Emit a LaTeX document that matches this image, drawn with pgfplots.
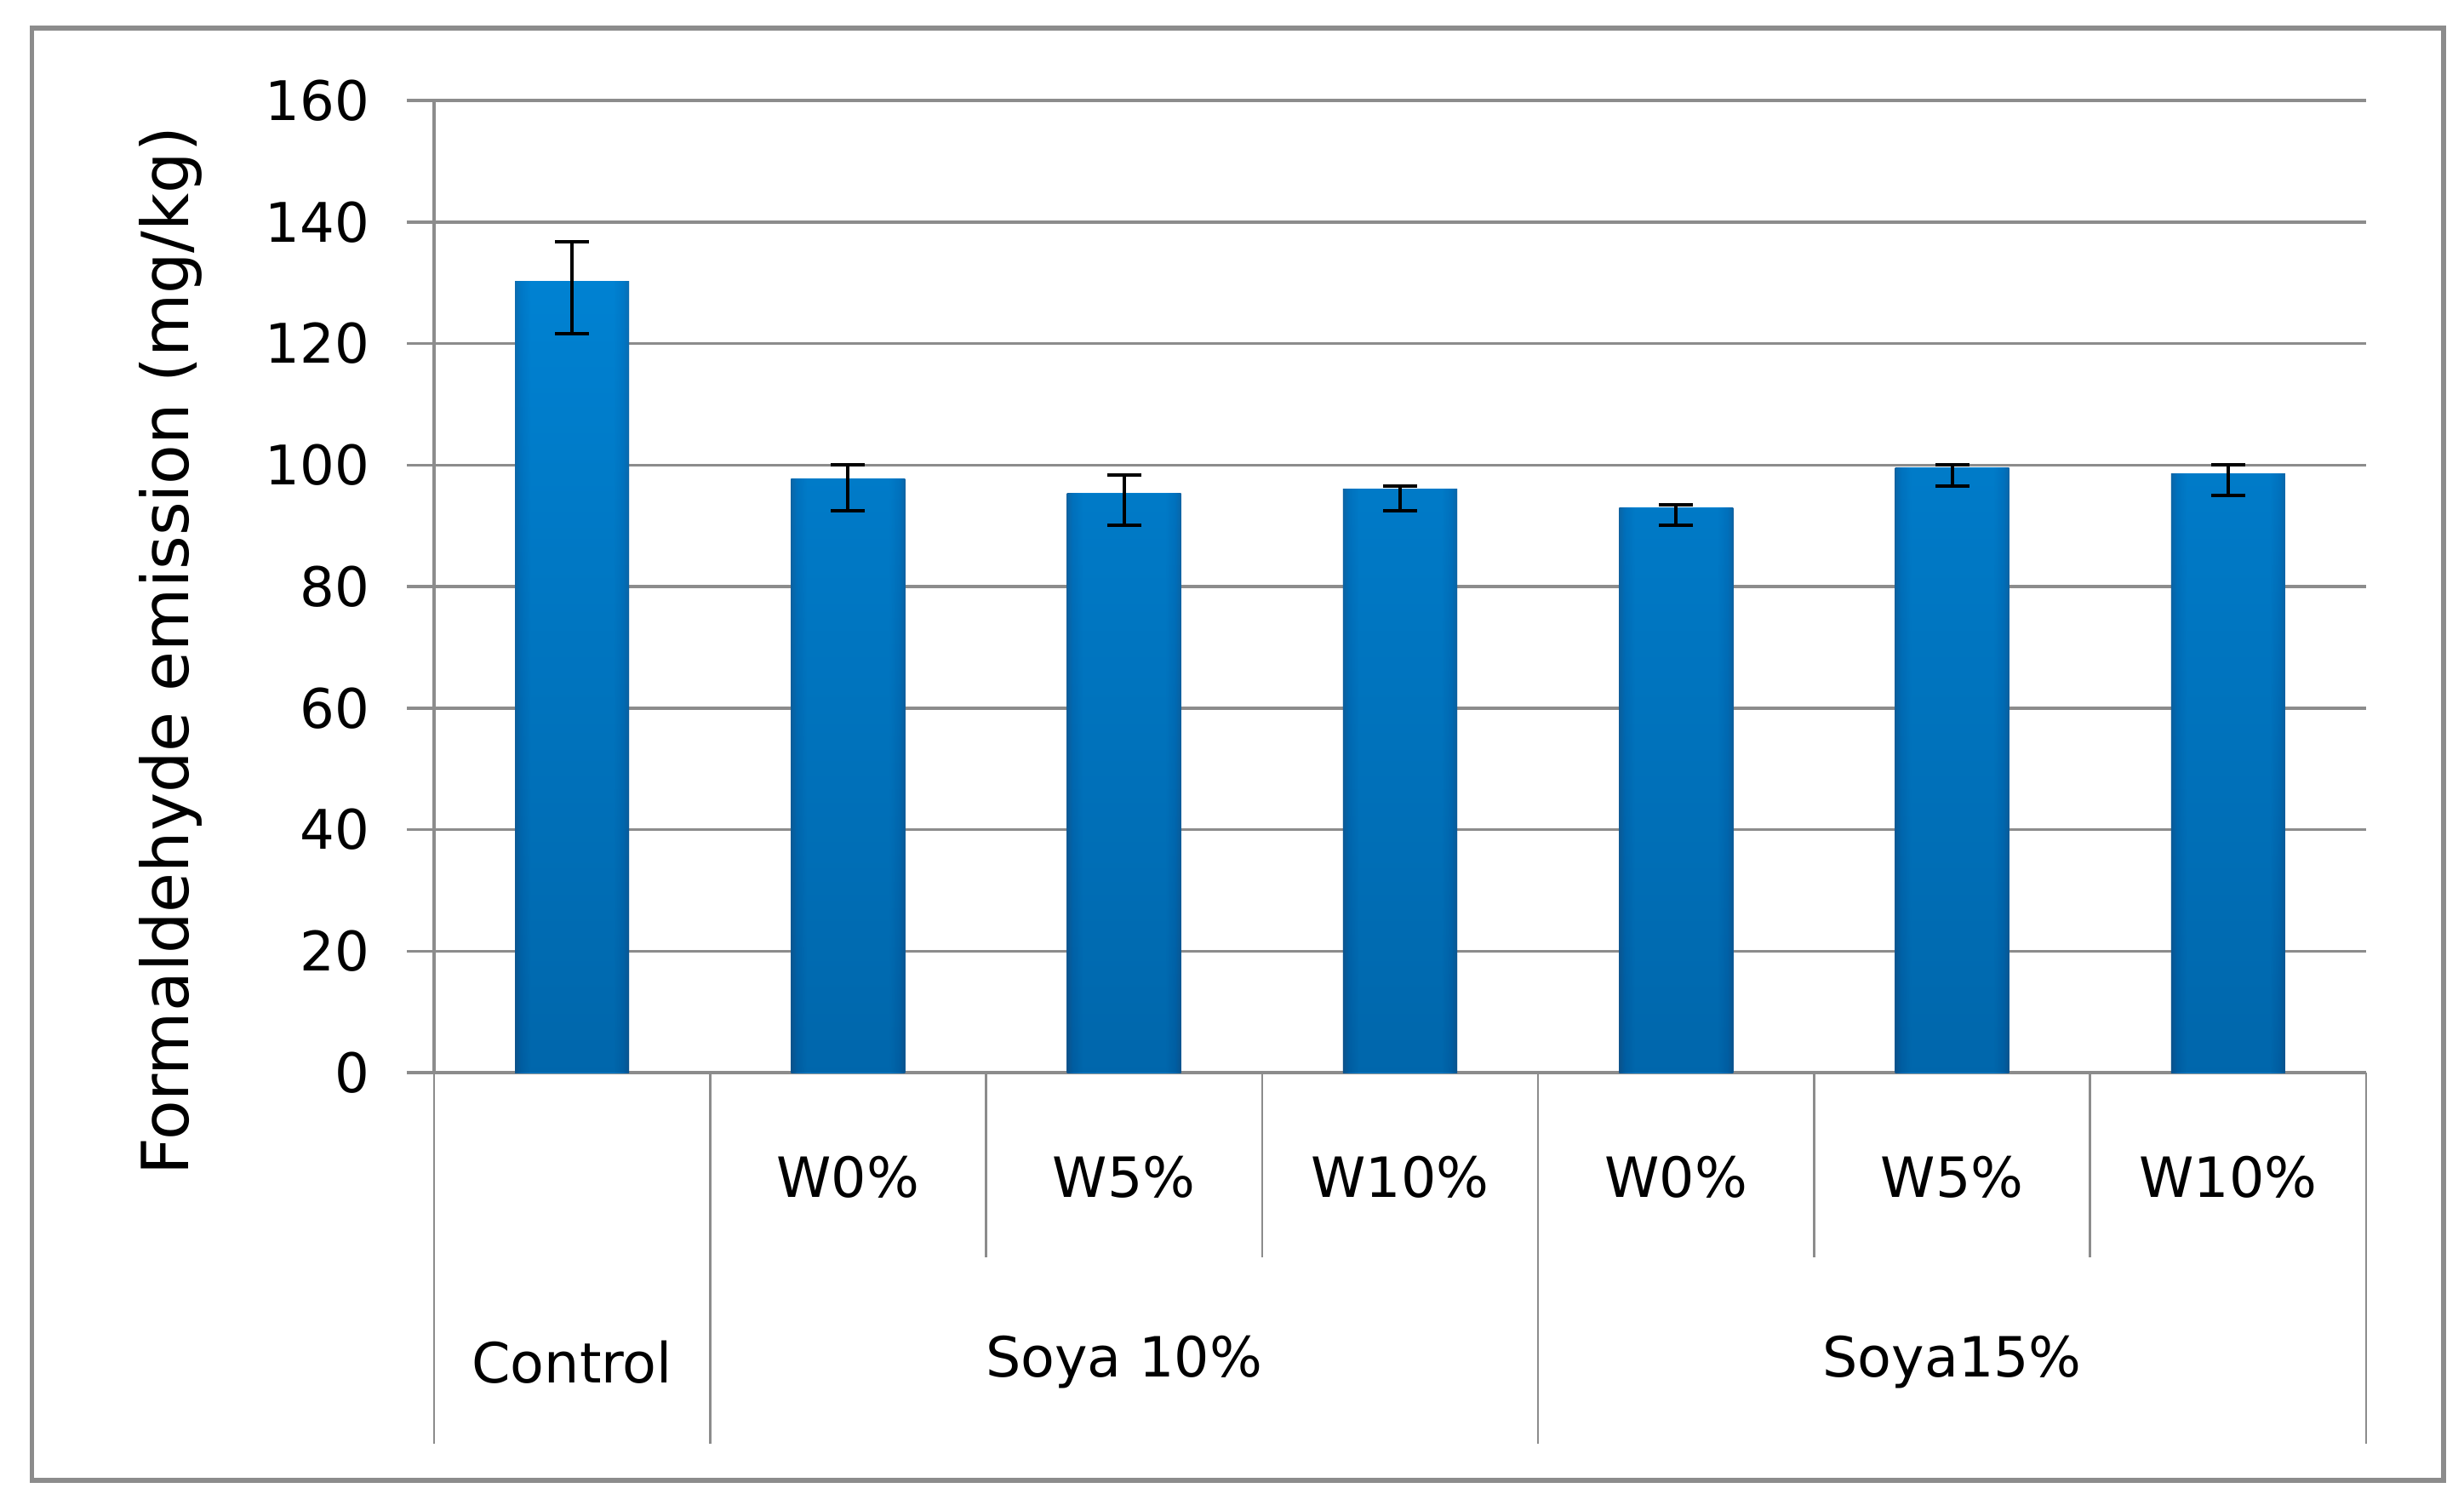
\documentclass[border=0pt]{standalone}
\usepackage{pgfplots}
\pgfplotsset{compat=1.18}
\usepackage{fontspec}
\setmainfont{DejaVu Sans}
\definecolor{gridgray}{RGB}{140,140,140}
\definecolor{baredge}{RGB}{22,92,150}
\definecolor{barside}{RGB}{0,112,190}
\definecolor{barmid}{RGB}{0,130,210}
\definecolor{barbot}{RGB}{0,70,125}
\pgfdeclarehorizontalshading{barshade}{100bp}{
  color(0bp)=(baredge); color(25bp)=(baredge); color(27.5bp)=(barside);
  color(32bp)=(barmid); color(68bp)=(barmid); color(72.5bp)=(barside);
  color(75bp)=(baredge); color(100bp)=(baredge)}
\pgfplotsset{onebar/.style={ybar, bar width=0.926cm, shading=barshade, draw=none}}

\begin{document}
\begin{tikzpicture}
\path (0,0) rectangle (20,12.256);
\draw[gridgray, line width=1pt] (0.256,0.242) rectangle (19.834,12.028);
\begin{axis}[
    at={(3.523cm,3.551cm)}, anchor=south west,
    scale only axis, width=15.683cm, height=7.889cm,
    xmin=-0.5, xmax=6.5, ymin=0, ymax=160,
    ytick={0,20,...,160},
    axis x line*=bottom, axis y line*=left,
    axis line style={gridgray, line width=0.7pt},
    ymajorgrids, grid style={gridgray, line width=0.7pt},
    xtick=\empty,
    ytick style={gridgray, line width=0.7pt},
    tick align=outside, major tick length=0.22cm,
    /pgf/number format/assume math mode=true,
    yticklabel style={font=\fontsize{12.6}{15}\selectfont, xshift=-0.18cm},
    ylabel={Formaldehyde emission (mg/kg)},
    ylabel style={at={(rel axis cs:-0.1365,0.4335)}, anchor=center, font=\fontsize{15}{18}\selectfont},
    clip=false,
  ]
% one plot per bar, so that each bar gets its own side shading
\addplot[onebar] coordinates {(0,130.3)};
\addplot[onebar] coordinates {(1,97.8)};
\addplot[onebar] coordinates {(2,95.3)};
\addplot[onebar] coordinates {(3,96.1)};
\addplot[onebar] coordinates {(4,92.9)};
\addplot[onebar] coordinates {(5,99.5)};
\addplot[onebar] coordinates {(6,98.6)};
% darker towards the base, and the error bars
\addplot[ybar, bar width=0.926cm, draw=none, top color=barmid, bottom color=barbot, fill opacity=0.45,
  error bars/.cd, y dir=both, y explicit,
  error bar style={black, line width=0.8pt, opacity=1},
  error mark options={rotate=90, black, line width=0.8pt, mark size=0.138cm}]
coordinates {
  (0,130.3) += (0,6.4) -= (0,8.7)
  (1,97.8)  += (0,2.2) -= (0,5.3)
  (2,95.3)  += (0,3.0) -= (0,5.2)
  (3,96.1)  += (0,0.5) -= (0,3.6)
  (4,92.9)  += (0,0.5) -= (0,2.8)
  (5,99.5)  += (0,0.5) -= (0,2.9)
  (6,98.6)  += (0,1.4) -= (0,3.6)
};
% category separators below the axis
\draw[gridgray, line width=0.5pt] (axis cs:-0.5,0) -- ([yshift=-3.012cm]axis cs:-0.5,0);
\draw[gridgray, line width=0.5pt] (axis cs:0.5,0) -- ([yshift=-3.012cm]axis cs:0.5,0);
\draw[gridgray, line width=0.5pt] (axis cs:3.5,0) -- ([yshift=-3.012cm]axis cs:3.5,0);
\draw[gridgray, line width=0.5pt] (axis cs:6.5,0) -- ([yshift=-3.012cm]axis cs:6.5,0);
\draw[gridgray, line width=0.5pt] (axis cs:1.5,0) -- ([yshift=-1.5cm]axis cs:1.5,0);
\draw[gridgray, line width=0.5pt] (axis cs:2.5,0) -- ([yshift=-1.5cm]axis cs:2.5,0);
\draw[gridgray, line width=0.5pt] (axis cs:4.5,0) -- ([yshift=-1.5cm]axis cs:4.5,0);
\draw[gridgray, line width=0.5pt] (axis cs:5.5,0) -- ([yshift=-1.5cm]axis cs:5.5,0);
% category labels
\begin{scope}[every node/.style={font=\fontsize{12.8}{15}\selectfont, anchor=center}]
\node at (axis cs:1,0) [yshift=-0.85cm] {W0\%};
\node at (axis cs:2,0) [yshift=-0.85cm] {W5\%};
\node at (axis cs:3,0) [yshift=-0.85cm] {W10\%};
\node at (axis cs:4,0) [yshift=-0.85cm] {W0\%};
\node at (axis cs:5,0) [yshift=-0.85cm] {W5\%};
\node at (axis cs:6,0) [yshift=-0.85cm] {W10\%};
\node at (axis cs:0,0) [yshift=-2.35cm] {Control};
\node at (axis cs:2,0) [yshift=-2.35cm] {Soya 10\%};
\node at (axis cs:5,0) [yshift=-2.35cm] {Soya15\%};
\end{scope}
\end{axis}
\end{tikzpicture}
\end{document}
